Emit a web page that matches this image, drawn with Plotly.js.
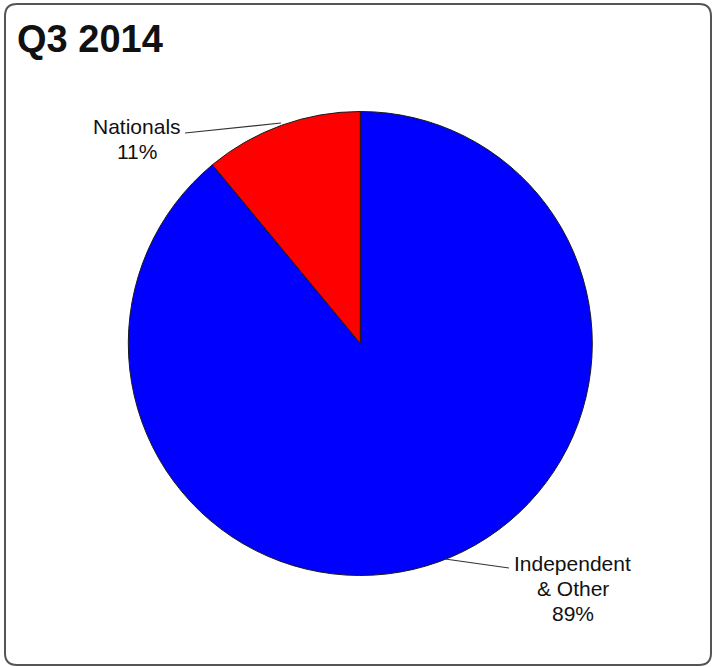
<!DOCTYPE html>
<html>
<head>
<meta charset="utf-8">
<script src="https://cdn.plot.ly/plotly-3.0.1.min.js"></script>
<style>html,body{margin:0;padding:0;background:#fff;}#chart{width:713px;height:667px;}</style>
</head>
<body>
<div id="chart"></div>
<script>
const categories = ["Independent & Other", "Nationals"];
const shares = [89, 11];
const sliceColors = ["#0000FF", "#FF0000"];
const labelLines = [["Independent", "& Other", "89%"], ["Nationals", "11%"]];
const chartTitle = "Q3 2014";

const W = 713, H = 667;
const px = x => x / W;
const py = y => (H - y) / H;

function roundedRect(x0, y0, x1, y1, r) {
  const X = v => px(v).toFixed(5), Y = v => py(v).toFixed(5);
  return `M ${X(x0 + r)},${Y(y0)} L ${X(x1 - r)},${Y(y0)} Q ${X(x1)},${Y(y0)} ${X(x1)},${Y(y0 + r)} ` +
         `L ${X(x1)},${Y(y1 - r)} Q ${X(x1)},${Y(y1)} ${X(x1 - r)},${Y(y1)} ` +
         `L ${X(x0 + r)},${Y(y1)} Q ${X(x0)},${Y(y1)} ${X(x0)},${Y(y1 - r)} ` +
         `L ${X(x0)},${Y(y0 + r)} Q ${X(x0)},${Y(y0)} ${X(x0 + r)},${Y(y0)} Z`;
}

const trace = {
  type: "pie",
  labels: categories,
  values: shares,
  sort: false,
  direction: "clockwise",
  rotation: 0,
  textinfo: "none",
  hoverinfo: "label+percent",
  marker: { colors: sliceColors, line: { color: "#1a1a1a", width: 1 } },
  domain: { x: [px(128.3), px(592.3)], y: [py(575.5), py(111.5)] },
  showlegend: false
};

const font = { family: "Liberation Sans, Arial, sans-serif", size: 21, color: "#111" };

// label block anchors (center x, first line center y)
const labelAnchors = [{ x: 572.5, y: 563 }, { x: 137, y: 126.5 }];
const lineStep = 25;

const annotations = [
  { xref: "paper", yref: "paper", x: px(15), y: py(39), xanchor: "left", yanchor: "middle",
    text: "<b>" + chartTitle + "</b>", showarrow: false,
    font: { family: "Liberation Sans, Arial, sans-serif", size: 38, color: "#111" } }
];
labelLines.forEach((lines, i) => {
  lines.forEach((t, j) => {
    annotations.push({ xref: "paper", yref: "paper", x: px(labelAnchors[i].x),
      y: py(labelAnchors[i].y + j * lineStep), xanchor: "center", yanchor: "middle",
      text: t, showarrow: false, font: font });
  });
});

const layout = {
  width: W, height: H,
  margin: { l: 0, r: 0, t: 0, b: 0 },
  paper_bgcolor: "#fff",
  showlegend: false,
  shapes: [
    { type: "path", xref: "paper", yref: "paper", path: roundedRect(5, 4, 711, 665, 12),
      line: { color: "#555", width: 2 }, fillcolor: "rgba(0,0,0,0)" },
    { type: "line", xref: "paper", yref: "paper", x0: px(185), y0: py(133), x1: px(281), y1: py(123),
      line: { color: "#333", width: 1.2 } },
    { type: "line", xref: "paper", yref: "paper", x0: px(445), y0: py(559), x1: px(509), y1: py(568),
      line: { color: "#333", width: 1.2 } }
  ],
  annotations: annotations
};

Plotly.newPlot("chart", [trace], layout, { staticPlot: true, displayModeBar: false });
</script>
</body>
</html>
